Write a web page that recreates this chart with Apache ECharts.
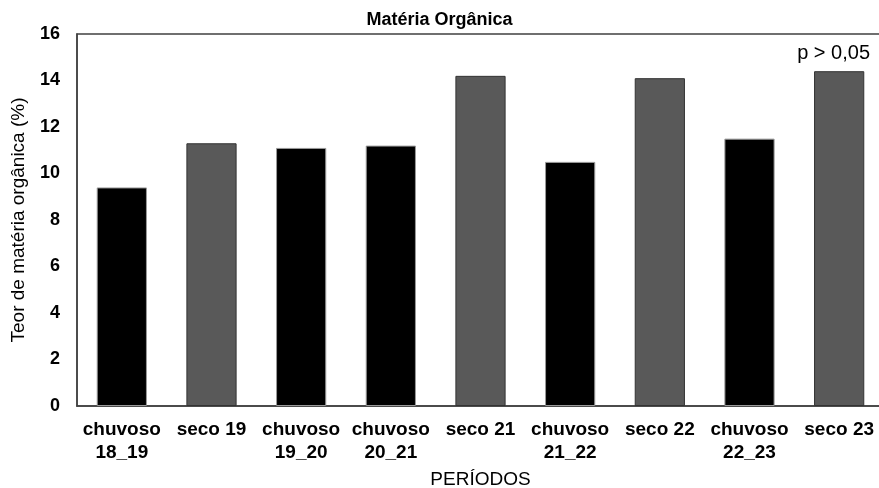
<!DOCTYPE html>
<html><head><meta charset="utf-8">
<script src="https://cdn.jsdelivr.net/npm/echarts@6/dist/echarts.min.js"></script>
<style>html,body{margin:0;padding:0;background:#fff}#c{width:879px;height:488px}</style>
</head><body><div id="c"></div>
<script>
const categories = ['chuvoso\n18_19','seco 19','chuvoso\n19_20','chuvoso\n20_21','seco 21','chuvoso\n21_22','seco 22','chuvoso\n22_23','seco 23'];
const values = [9.4, 11.3, 11.1, 11.2, 14.2, 10.5, 14.1, 11.5, 14.4];
const yTicks = [0, 2, 4, 6, 8, 10, 12, 14, 16];
const F = '"Liberation Sans", Arial, sans-serif';
const chart = echarts.init(document.getElementById('c'));
chart.setOption({
  animation: false,
  title: { text: 'Matéria Orgânica', left: 'center', top: 6,
    textStyle: { fontFamily: F, fontWeight: 'bold', fontSize: 18, color: '#000' } },
  grid: { left: 77, right: -5, top: 34, bottom: 82, outerBoundsMode: 'none', containLabel: false,
    show: true, borderColor: '#404040', borderWidth: 1.5, backgroundColor: 'transparent' },
  xAxis: { type: 'category', data: categories,
    name: 'PERÍODOS', nameLocation: 'middle', nameGap: 64,
    nameTextStyle: { fontFamily: F, fontSize: 19, color: '#000' },
    axisLine: { lineStyle: { color: '#404040', width: 1.5 } },
    axisTick: { show: false },
    axisLabel: { interval: 0, fontFamily: F, fontWeight: 'bold', fontSize: 19, color: '#000', lineHeight: 23, margin: 12 } },
  yAxis: { type: 'value', min: yTicks[0], max: yTicks[yTicks.length-1], interval: 2,
    name: 'Teor de matéria orgânica (%)', nameLocation: 'middle', nameGap: 49,
    nameTextStyle: { fontFamily: F, fontSize: 19, color: '#000' },
    axisLine: { show: true, lineStyle: { color: '#404040', width: 1.5 } },
    axisTick: { show: false }, splitLine: { show: false },
    axisLabel: { fontFamily: F, fontWeight: 'bold', fontSize: 18, color: '#000', margin: 17 } },
  series: [{
    type: 'bar', barWidth: '56%',
    data: values.map((v, i) => ({ value: v, itemStyle: categories[i].startsWith('seco')
      ? { color: '#595959', borderColor: '#333', borderWidth: 1 }
      : { color: '#000', borderColor: '#999', borderWidth: 1 } }))
  }],
  graphic: [{ type: 'text', right: 9, top: 43,
    style: { text: 'p > 0,05', fontFamily: F, fontSize: 20, fill: '#000' } }]
});
</script></body></html>
